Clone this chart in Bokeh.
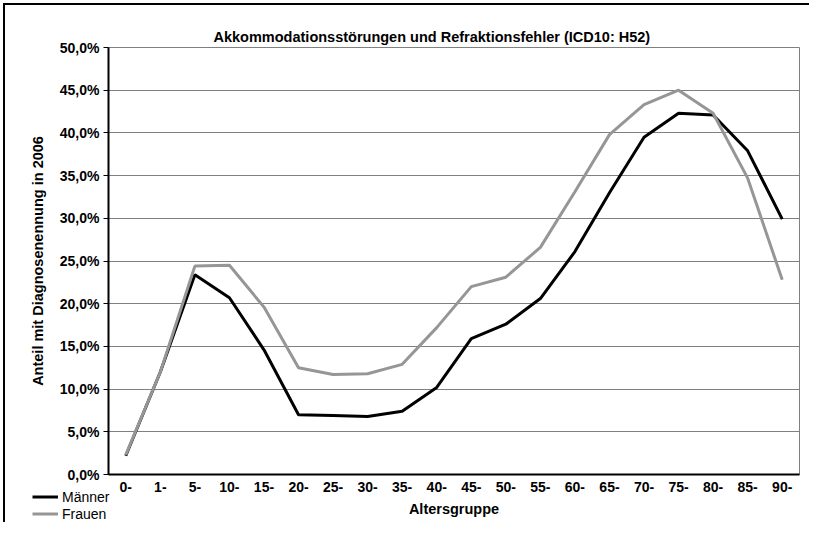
from bokeh.plotting import figure
from bokeh.layouts import column
from bokeh.models import FactorRange, Range1d, FixedTicker, Legend, LegendItem
from bokeh.embed import file_html
from bokeh.resources import INLINE

age_groups = ["0-", "1-", "5-", "10-", "15-", "20-", "25-", "30-", "35-", "40-",
              "45-", "50-", "55-", "60-", "65-", "70-", "75-", "80-", "85-", "90-"]
maenner = [2.2, 12.0, 23.4, 20.7, 14.6, 7.0, 6.9, 6.8, 7.4, 10.2,
           15.9, 17.6, 20.6, 26.1, 33.0, 39.5, 42.3, 42.1, 37.9, 29.9]
frauen = [2.3, 12.0, 24.4, 24.5, 19.6, 12.5, 11.7, 11.8, 12.9, 17.2,
          22.0, 23.1, 26.6, 33.1, 39.8, 43.3, 45.0, 42.3, 34.7, 22.8]
y_ticks = [0, 5, 10, 15, 20, 25, 30, 35, 40, 45, 50]
y_tick_labels = ["0,0%", "5,0%", "10,0%", "15,0%", "20,0%", "25,0%",
                 "30,0%", "35,0%", "40,0%", "45,0%", "50,0%"]
series_names = ["Männer", "Frauen"]
series_values = [maenner, frauen]
series_colors = ["#000000", "#969696"]

FONT = "Liberation Sans"

p = figure(width=804, height=517, output_backend="svg", toolbar_location=None,
           x_range=FactorRange(*age_groups), y_range=Range1d(0, 50),
           min_border_left=103, min_border_right=10, min_border_top=42,
           min_border_bottom=48)

p.title.text = "Akkommodationsstörungen und Refraktionsfehler (ICD10: H52)"
p.title.text_font = FONT
p.title.text_font_size = "14.5px"
p.title.text_font_style = "bold"
p.title.text_color = "#000000"
p.title.align = "left"
p.title.offset = 105
p.title.standoff = 6

for vals, col in zip(series_values, series_colors):
    p.line(age_groups, vals, line_color=col, line_width=3)

p.outline_line_color = "#808080"
p.outline_line_width = 1
p.xgrid.grid_line_color = None
p.ygrid.grid_line_color = "#808080"
p.ygrid.grid_line_width = 1
p.ygrid.ticker = FixedTicker(ticks=y_ticks)

ya = p.yaxis[0]
ya.ticker = FixedTicker(ticks=y_ticks)
ya.major_label_overrides = {t: l for t, l in zip(y_ticks, y_tick_labels)}
ya.axis_label = "Anteil mit Diagnosenennung in 2006"
ya.axis_line_color = "#000000"
ya.axis_line_width = 2
ya.major_tick_out = 5
ya.major_tick_in = 0
ya.minor_tick_out = 0
ya.minor_tick_in = 0
ya.major_tick_line_color = "#000000"
ya.major_label_standoff = 4
ya.axis_label_standoff = 11

xa = p.xaxis[0]
xa.axis_label = "Altersgruppe"
xa.axis_line_color = "#000000"
xa.axis_line_width = 2
xa.major_tick_out = 0
xa.major_tick_in = 0
xa.major_label_standoff = 7
xa.axis_label_standoff = 6

for ax in (xa, ya):
    ax.major_label_text_font = FONT
    ax.major_label_text_font_size = "14px"
    ax.major_label_text_font_style = "bold"
    ax.major_label_text_color = "#000000"
    ax.axis_label_text_font = FONT
    ax.axis_label_text_font_size = "14.5px"
    ax.axis_label_text_font_style = "bold"
    ax.axis_label_text_color = "#000000"

# legend: transparent strip laid over the bottom of the chart; its lines sit
# outside the strip's own y range so only the legend samples show
lg = figure(width=804, height=40, output_backend="svg", toolbar_location=None,
            x_range=FactorRange(*age_groups), y_range=Range1d(-20, -10),
            x_axis_location=None, y_axis_location=None, min_border=0,
            outline_line_color=None, background_fill_alpha=0, border_fill_alpha=0,
            margin=(-40, 0, 0, 0))
lg.grid.visible = False
for fig in (p, lg):
    try:
        fig.frame_align = False
    except AttributeError:
        pass
items = []
for name, vals, col in zip(series_names, series_values, series_colors):
    r = lg.line(age_groups, vals, line_color=col, line_width=3)
    items.append(LegendItem(label=name, renderers=[r]))
legend = Legend(items=items, location=(27, 0), orientation="vertical",
                padding=0, margin=0, spacing=0,
                glyph_width=26, glyph_height=17, label_height=17,
                label_standoff=4, border_line_color=None,
                background_fill_alpha=0,
                label_text_font=FONT, label_text_font_size="14px",
                label_text_color="#000000")
lg.add_layout(legend)

layout = column(p, lg, spacing=0, margin=(3, 0, 0, 3),
                styles={"border-left": "2px solid #000000",
                        "border-top": "2px solid #000000"})

open("out.html", "w").write(file_html(layout, INLINE))
